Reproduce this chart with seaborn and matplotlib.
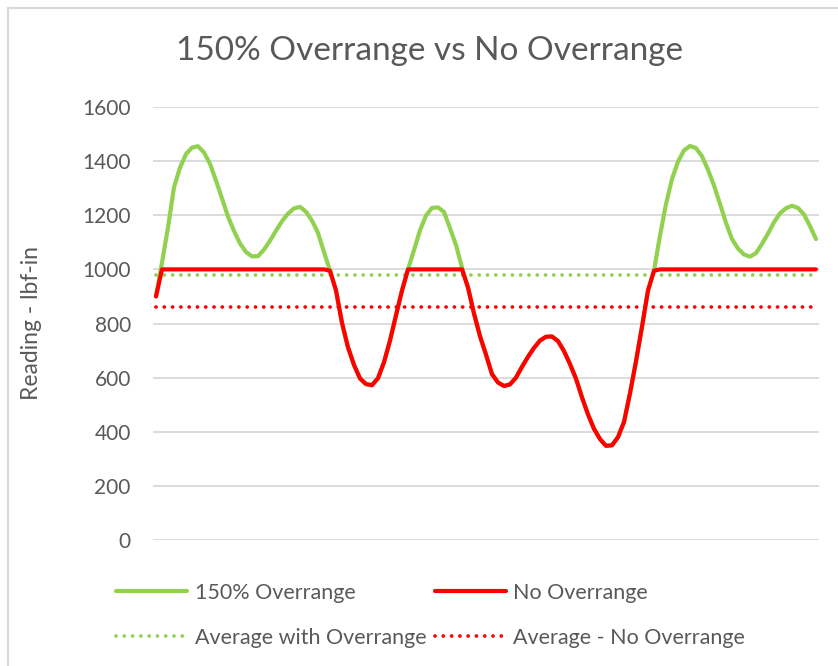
import numpy as np
import pandas as pd
import matplotlib
matplotlib.use("Agg")
import matplotlib.pyplot as plt
import seaborn as sns
from matplotlib.lines import Line2D


# Readings taken off the chart, one every sample
green = [900, 1025, 1155, 1303, 1376, 1426, 1450, 1455, 1432, 1390,
         1328, 1262, 1195, 1142, 1096, 1064, 1048, 1049, 1073, 1106,
         1143, 1178, 1206, 1225, 1231, 1213, 1180, 1135, 1064, 995,
         922, 802, 712, 647, 597, 576, 572, 598, 657, 737,
         830, 922, 1000, 1071, 1144, 1199, 1227, 1229, 1212, 1152,
         1090, 1007, 933, 837, 753, 685, 613, 582, 569, 575,
         600, 640, 677, 710, 737, 751, 752, 735, 698, 650,
         596, 527, 464, 411, 373, 348, 350, 380, 436, 542,
         660, 788, 922, 995, 1125, 1241, 1334, 1398, 1440, 1456,
         1448, 1418, 1368, 1310, 1242, 1172, 1112, 1077, 1055, 1047,
         1060, 1094, 1132, 1174, 1207, 1226, 1235, 1227, 1203, 1160,
         1112]

red = [900, 1000, 1000, 1000, 1000, 1000, 1000, 1000, 1000, 1000,
       1000, 1000, 1000, 1000, 1000, 1000, 1000, 1000, 1000, 1000,
       1000, 1000, 1000, 1000, 1000, 1000, 1000, 1000, 1000, 995,
       922, 802, 712, 647, 597, 576, 572, 598, 657, 737,
       830, 922, 1000, 1000, 1000, 1000, 1000, 1000, 1000, 1000,
       1000, 1000, 933, 837, 753, 685, 613, 582, 569, 575,
       600, 640, 677, 710, 737, 751, 752, 735, 698, 650,
       596, 527, 464, 411, 373, 348, 350, 380, 436, 542,
       660, 788, 922, 995, 1000, 1000, 1000, 1000, 1000, 1000,
       1000, 1000, 1000, 1000, 1000, 1000, 1000, 1000, 1000, 1000,
       1000, 1000, 1000, 1000, 1000, 1000, 1000, 1000, 1000, 1000,
       1000]

avg_green = 980
avg_red = 860

labels = ["150% Overrange", "No Overrange",
          "Average with Overrange", "Average - No Overrange"]
yticks = [0, 200, 400, 600, 800, 1000, 1200, 1400, 1600]

GREEN = "#92D050"
RED = "#FF0000"
GREY_TXT = "#595959"
GRID = "#D9D9D9"

sns.set_style("white")
plt.rcParams["font.family"] = ["Lato", "DejaVu Sans"]

idx = np.arange(len(green))
df = pd.DataFrame({"idx": idx, "green": green, "red": red})
ends = [idx[0], idx[-1]]

fig = plt.figure(figsize=(8.38, 6.66), dpi=100)
ax = fig.add_axes([153 / 838, 1 - 540 / 666, (819 - 153) / 838, (540 - 107) / 666])

dots = (0, (0.01, 2.2))
sns.lineplot(data=df, x="idx", y="green", ax=ax, color=GREEN, linewidth=3.0,
             label=labels[0], solid_joinstyle="round", solid_capstyle="round")
sns.lineplot(x=ends, y=[avg_green, avg_green], ax=ax, color=GREEN, linewidth=2.7,
             linestyle=dots, dash_capstyle="round", label=labels[2])
sns.lineplot(data=df, x="idx", y="red", ax=ax, color=RED, linewidth=3.0,
             label=labels[1], solid_joinstyle="round", solid_capstyle="round")
sns.lineplot(x=ends, y=[avg_red, avg_red], ax=ax, color=RED, linewidth=2.7,
             linestyle=dots, dash_capstyle="round", label=labels[3])

ax.set_xlim(-0.5, len(green) - 0.5)
ax.set_ylim(0, 1600)
ax.set_yticks(yticks)
ax.set_xticks([])
ax.set_xlabel("")
ax.set_ylabel("")
ax.yaxis.grid(True, color=GRID, linewidth=1.3)
ax.set_axisbelow(True)
for s in ax.spines.values():
    s.set_visible(False)
ax.tick_params(axis="y", length=0, pad=16, labelsize=15, labelcolor=GREY_TXT)

# legend below the plot, two columns
handles, labs = ax.get_legend_handles_labels()
ax.get_legend().remove()
order = [labs.index(labels[0]), labs.index(labels[2]),
         labs.index(labels[1]), labs.index(labels[3])]
leg = fig.legend([handles[i] for i in order], [labs[i] for i in order],
                 ncol=2, loc="upper left", bbox_to_anchor=(116 / 838, 1 - 583 / 666),
                 frameon=False, fontsize=15.5, handlelength=3.3, handletextpad=0.35,
                 columnspacing=0.4, labelspacing=1.15, borderpad=0, borderaxespad=0)
for t in leg.get_texts():
    t.set_color(GREY_TXT)

fig.text(429 / 838, 1 - 51 / 666, "150% Overrange vs No Overrange", ha="center",
         va="center", fontsize=24, color=GREY_TXT)
fig.text(32 / 838, 1 - 323 / 666, "Reading - lbf-in", rotation=90, ha="center",
         va="center", fontsize=16.5, color=GREY_TXT)

# chart border (only top and left show in the crop)
fig.add_artist(Line2D([8 / 838, 8 / 838], [0, 1 - 8 / 666], color=GRID, linewidth=1.5))
fig.add_artist(Line2D([8 / 838, 1], [1 - 8 / 666, 1 - 8 / 666], color=GRID, linewidth=1.5))

fig.savefig("out.png", dpi=100)
plt.close()
